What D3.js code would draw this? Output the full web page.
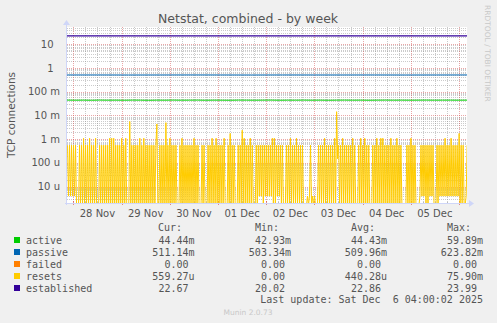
<!DOCTYPE html>
<html>
<head>
<meta charset="utf-8">
<script src="https://cdn.jsdelivr.net/npm/d3@7"></script>
<style>
  body { margin: 0; background: #f0f0f0; }
  svg { display: block; }
  text { font-family: "DejaVu Sans", sans-serif; white-space: pre; }
  .mono { font-family: "DejaVu Sans Mono", monospace; }
</style>
</head>
<body>
<svg width="497" height="323"></svg>
<script>
const width = 497;
const height = 323;
const plot = {left: 67, right: 467, top: 27, bottom: 203};

// time window of the week graph (UTC)
const tStart = Date.UTC(2025, 10, 27, 20, 50);
const tEnd = Date.UTC(2025, 11, 6, 4, 0);
const step = 30 * 60 * 1000;

const yTicks = [10, 1, 0.1, 0.01, 0.001, 1e-4, 1e-5];
const yTickLabels = ['10', '1', '100 m', '10 m', '1 m', '100 u', '10 u'];
const dayTicks = ['2025-11-28', '2025-11-29', '2025-11-30', '2025-12-01',
                  '2025-12-02', '2025-12-03', '2025-12-04', '2025-12-05'];
const dayLabels = ['28 Nov', '29 Nov', '30 Nov', '01 Dec', '02 Dec', '03 Dec', '04 Dec', '05 Dec'];

const seriesNames = ['active', 'passive', 'failed', 'resets', 'established'];
const seriesColors = ['#00cc00', '#0066b3', '#ff8000', '#ffcc00', '#330099'];
const legendCur = ['44.44m', '511.14m', '0.00', '559.27u', '22.67'];
const legendMin = ['42.93m', '503.34m', '0.00', '0.00', '20.02'];
const legendAvg = ['44.43m', '509.96m', '0.00', '440.28u', '22.86'];
const legendMax = ['59.89m', '623.82m', '0.00', '75.90m', '23.99'];

// connections/s, one value per ~4 hours
const activeVals = [0.0446, 0.0442, 0.0445, 0.0440, 0.0447, 0.0443, 0.0445, 0.0441, 0.0446, 0.0444,
                    0.0439, 0.0445, 0.0443, 0.0447, 0.0442, 0.0444, 0.0446, 0.0441, 0.0445, 0.0443,
                    0.0440, 0.0446, 0.0444, 0.0442, 0.0445, 0.0447, 0.0441, 0.0444, 0.0443, 0.0446,
                    0.0442, 0.0445, 0.0440, 0.0444, 0.0446, 0.0443, 0.0445, 0.0441, 0.0444, 0.0446,
                    0.0443, 0.0445, 0.0442, 0.0444, 0.0446, 0.0443, 0.0444, 0.0445, 0.0442, 0.0444];
const passiveVals = [0.510, 0.511, 0.509, 0.510, 0.512, 0.510, 0.509, 0.511, 0.510, 0.510,
                     0.511, 0.509, 0.510, 0.511];
const failedVals = [0, 0, 0, 0, 0, 0, 0, 0, 0, 0, 0, 0, 0, 0];
const establishedVals = [22.9, 22.8, 22.9, 22.7, 22.9, 22.8, 22.9, 22.9, 22.8, 22.9,
                         22.8, 22.9, 22.7, 22.7];

// resets, one code per 30 min sample
const resetsCodes = [
  '1s1s1s1s10', '0010102010', '1020101020', '0010101010', '1020202010',
  '1010201020', '00A0101010', '1020102010', '1010101018', '0010101090',
  '1020101010', '0010201010', '1010102010', '1000101000', '1010201020',
  '1010102000', '1030101000', '1010402010', '1020100010', '1s1s101s1s',
  '1s1s20201s', '1s10100010', '1020101020', '101010000s', '0s10s0s000',
  '1010102010', '10101020Pt', '1010201010', '1010201000', '1020102010',
  '1000101020', '1020201010', '1020101020', '1010000010', '1020101000',
  '0s1s1s1010', '1s1s100010', '1s1s1s2s1s', '1s2s1s1s1s', '3010100s11'
];
const resetsLevels = {'0': 0, 's': 4e-6, 't': 1.5e-4, '1': 5.6e-4, '2': 1.1e-3, '3': 1.75e-3,
                      '4': 2.4e-3, '8': 4.4e-3, '9': 5.0e-3, 'A': 5.6e-3, 'P': 14.5e-3};

const svg = d3.select('svg');

const x = d3.scaleTime().domain([tStart, tEnd]).range([plot.left, plot.right]);
const y = d3.scaleLog().domain([2.05e-6, 53.7]).range([plot.bottom, plot.top]);
const yv = v => v > 0 ? y(v) : plot.bottom + 2;

svg.append('defs').append('clipPath').attr('id', 'clip')
    .append('rect')
    .attr('x', plot.left).attr('y', plot.top)
    .attr('width', plot.right - plot.left).attr('height', plot.bottom - plot.top);

// canvas
svg.append('rect')
    .attr('x', plot.left).attr('y', plot.top)
    .attr('width', plot.right - plot.left).attr('height', plot.bottom - plot.top)
    .attr('fill', '#fff');

// grid
const grid = svg.append('g').attr('shape-rendering', 'crispEdges');
const minorY = [];
for (let k = -6; k <= 1; k++) {
  for (let m = 2; m <= 9; m++) {
    const v = m * Math.pow(10, k);
    if (v > y.domain()[0] && v < y.domain()[1]) minorY.push(v);
  }
}
grid.selectAll('.hmin').data(minorY).join('line')
    .attr('x1', plot.left).attr('x2', plot.right)
    .attr('y1', d => Math.round(y(d)) + 0.5).attr('y2', d => Math.round(y(d)) + 0.5)
    .attr('stroke', 'rgba(140,140,140,0.45)').attr('stroke-dasharray', '1,1');

const sixHours = d3.utcHour.every(6).range(new Date(tStart), new Date(tEnd))
    .filter(d => d.getUTCHours() !== 0);
grid.selectAll('.vmin').data(sixHours).join('line')
    .attr('x1', d => Math.round(x(d)) + 0.5).attr('x2', d => Math.round(x(d)) + 0.5)
    .attr('y1', plot.top).attr('y2', plot.bottom)
    .attr('stroke', 'rgba(140,140,140,0.45)').attr('stroke-dasharray', '1,1');

grid.selectAll('.hmaj').data(yTicks).join('line')
    .attr('x1', plot.left).attr('x2', plot.right)
    .attr('y1', d => Math.round(y(d)) + 0.5).attr('y2', d => Math.round(y(d)) + 0.5)
    .attr('stroke', 'rgba(210,60,60,0.45)').attr('stroke-dasharray', '1,1');

const midnights = d3.utcDay.range(new Date(tStart), new Date(tEnd));
grid.selectAll('.vmaj').data(midnights).join('line')
    .attr('x1', d => Math.round(x(d)) + 0.5).attr('x2', d => Math.round(x(d)) + 0.5)
    .attr('y1', plot.top).attr('y2', plot.bottom)
    .attr('stroke', 'rgba(210,60,60,0.45)').attr('stroke-dasharray', '1,1');

// tick marks on the axes
grid.selectAll('.tmaj').data(midnights).join('line')
    .attr('x1', d => Math.round(x(d)) + 0.5).attr('x2', d => Math.round(x(d)) + 0.5)
    .attr('y1', plot.bottom - 2).attr('y2', plot.bottom + 2)
    .attr('stroke', 'rgba(210,60,60,0.6)');
grid.selectAll('.tmin').data(sixHours).join('line')
    .attr('x1', d => Math.round(x(d)) + 0.5).attr('x2', d => Math.round(x(d)) + 0.5)
    .attr('y1', plot.bottom - 1).attr('y2', plot.bottom + 1)
    .attr('stroke', 'rgba(140,140,140,0.6)');

// series
const lines = svg.append('g').attr('clip-path', 'url(#clip)');
const evenly = vals => vals.map((v, i) => ({t: tStart + (tEnd - tStart) * i / (vals.length - 1), v}));

const resets = resetsCodes.join('').split('')
    .map((c, i) => ({t: tStart + (i + 0.5) * step, v: resetsLevels[c]}));

const line = d3.line().x(d => x(d.t)).y(d => yv(d.v));

lines.append('path').datum(resets)
    .attr('fill', 'none').attr('stroke', seriesColors[3]).attr('stroke-width', 1)
    .attr('d', line);

lines.append('path').datum(evenly(failedVals).filter(d => d.v > 0))
    .attr('fill', 'none').attr('stroke', seriesColors[2]).attr('stroke-width', 1)
    .attr('d', line);

lines.append('path').datum(evenly(activeVals))
    .attr('fill', 'none').attr('stroke', seriesColors[0]).attr('stroke-width', 1)
    .attr('d', line);

lines.append('path').datum(evenly(passiveVals))
    .attr('fill', 'none').attr('stroke', seriesColors[1]).attr('stroke-width', 1)
    .attr('d', line);

lines.append('path').datum(evenly(establishedVals))
    .attr('fill', 'none').attr('stroke', seriesColors[4]).attr('stroke-width', 1.2)
    .attr('d', line);

// axes with arrows
const axisColor = '#cfd6f8';
svg.append('line')
    .attr('x1', plot.left - 0.5).attr('x2', plot.left - 0.5)
    .attr('y1', plot.bottom + 2).attr('y2', plot.top - 4)
    .attr('stroke', axisColor);
svg.append('path')
    .attr('d', `M${plot.left - 4},${plot.top - 2}L${plot.left - 0.5},${plot.top - 7}L${plot.left + 3},${plot.top - 2}Z`)
    .attr('fill', axisColor);
svg.append('line')
    .attr('x1', plot.left - 2).attr('x2', plot.right + 4)
    .attr('y1', plot.bottom + 0.5).attr('y2', plot.bottom + 0.5)
    .attr('stroke', axisColor);
svg.append('path')
    .attr('d', `M${plot.right + 2},${plot.bottom - 3}L${plot.right + 7},${plot.bottom + 0.5}L${plot.right + 2},${plot.bottom + 4}Z`)
    .attr('fill', axisColor);

// y tick labels
svg.append('g')
    .attr('font-size', 10).attr('fill', '#555')
    .selectAll('text').data(yTicks).join('text')
    .attr('x', (d, i) => yTickLabels[i].includes(' ') ? 60 : 53.6)
    .attr('y', d => y(d) + 3.5)
    .attr('text-anchor', 'end')
    .text((d, i) => yTickLabels[i]);

// x tick labels, centred at noon
svg.append('g')
    .attr('font-size', 10).attr('fill', '#555')
    .selectAll('text').data(dayTicks).join('text')
    .attr('x', d => x(new Date(d + 'T12:00:00Z')))
    .attr('y', 216.5)
    .attr('text-anchor', 'middle')
    .text((d, i) => dayLabels[i]);

// title and labels
svg.append('text')
    .attr('x', 248).attr('y', 23)
    .attr('text-anchor', 'middle').attr('font-size', 12.5).attr('fill', '#555')
    .text('Netstat, combined - by week');

svg.append('text')
    .attr('transform', `translate(15,${(plot.top + plot.bottom) / 2}) rotate(-90)`)
    .attr('text-anchor', 'middle').attr('font-size', 10.5).attr('fill', '#555')
    .text('TCP connections');

svg.append('text')
    .attr('transform', 'translate(485,5) rotate(90)')
    .attr('font-size', 7.5).attr('fill', '#c8c8c8')
    .text('RRDTOOL / TOBI OETIKER');

// legend
const legend = svg.append('g').attr('class', 'mono').attr('font-size', 10).attr('fill', '#555');
const headers = [['Cur:', 158], ['Min:', 255], ['Avg:', 351], ['Max:', 447]];
legend.selectAll('.hdr').data(headers).join('text')
    .attr('class', 'mono')
    .attr('x', d => d[0] === 'Cur:' ? d[1] : d[1]).attr('y', 231)
    .text(d => d[0]);

const rows = legend.selectAll('.row').data(seriesNames).join('g')
    .attr('transform', (d, i) => `translate(0,${237 + i * 12})`);
rows.append('rect')
    .attr('x', 14).attr('y', 0).attr('width', 6).attr('height', 6)
    .attr('fill', (d, i) => seriesColors[i]);
rows.append('text')
    .attr('class', 'mono')
    .attr('x', 26).attr('y', 6.5)
    .text(d => d);

const columns = [[legendCur, 194.5], [legendMin, 291], [legendAvg, 387], [legendMax, 483]];
columns.forEach(([vals, edge]) => {
  rows.append('text')
      .attr('class', 'mono')
      .attr('x', edge).attr('y', 6.5)
      .attr('text-anchor', 'end')
      .text((d, i) => /[a-z]$/.test(vals[i]) ? vals[i] : vals[i] + '\u00a0');
});

legend.append('text')
    .attr('class', 'mono')
    .attr('x', 483).attr('y', 303)
    .attr('text-anchor', 'end')
    .text('Last update: Sat Dec  6 04:00:02 2025');

svg.append('text')
    .attr('x', 248).attr('y', 315)
    .attr('text-anchor', 'middle').attr('font-size', 7.5).attr('fill', '#c8c8c8')
    .text('Munin 2.0.73');
</script>
</body>
</html>
